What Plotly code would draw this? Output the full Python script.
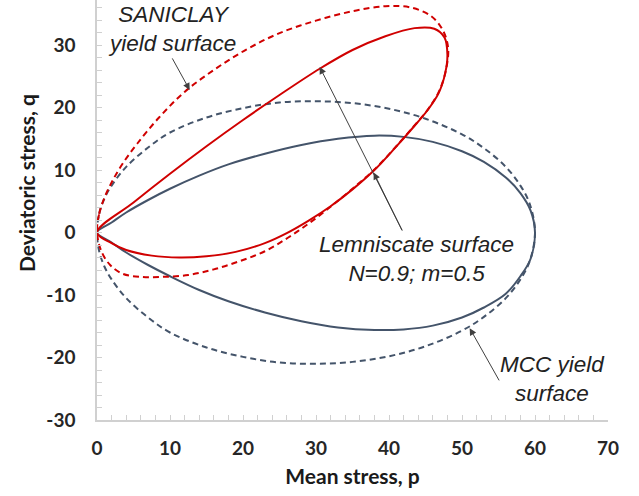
import plotly.graph_objects as go

# ---- data ----
# MCC yield surface (dashed, blue-grey), closed loop
mcc_p = [0, 0.3, 1, 2, 4, 7, 10, 15, 20, 25, 30, 35, 40, 45, 50, 53, 56, 58, 59.3, 60,
         59.3, 58, 56, 53, 50, 45, 40, 35, 30, 25, 20, 15, 10, 7, 4, 2, 1, 0.3, 0]
mcc_q = [0, 3.0, 5.4, 7.5, 10.5, 13.6, 16.0, 18.4, 19.9, 20.8, 21.0, 20.7, 19.8, 18.2, 15.7, 13.5, 10.5, 7.5, 4.5, 0,
         -4.5, -7.5, -10.5, -13.5, -15.7, -18.2, -19.8, -20.7, -21.0, -20.8, -19.9, -18.4, -16.0, -13.6, -10.5, -7.5, -5.4, -3.0, 0]

# Lemniscate surface (solid, blue-grey)
lem_p = [0, 2, 4, 7, 10, 14, 18, 23, 28, 33, 38, 42, 46, 50, 53, 56, 58, 59.4, 60,
         59.4, 58, 56, 53, 50, 46, 42, 38, 33, 28, 23, 18, 14, 10, 7, 4, 2, 0]
lem_q = [0, 1.6, 3.2, 5.2, 7.0, 9.1, 10.9, 12.6, 14.0, 15.0, 15.5, 15.3, 14.5, 13.0, 11.3, 8.8, 6.3, 3.5, 0,
         -4.2, -7.0, -9.8, -12.0, -13.6, -14.9, -15.5, -15.6, -15.2, -14.2, -12.8, -11.0, -9.2, -7.0, -5.2, -3.2, -1.6, 0]

# SANICLAY yield surface (dashed, red)
san_p = [0, 0.3, 1, 2, 3.5, 5.5, 8.5, 12, 16, 20.5, 25, 30, 35, 39.5, 43, 45.8, 47.4, 48.1,
         47.8, 46.9, 45.4, 43.4, 41, 38.2, 35.2, 32.2, 29.2, 26.2, 23, 19.5, 16, 12.5, 9, 6, 3.5, 1.8, 0.6, 0]
san_q = [0, 3.0, 5.5, 8.0, 11.0, 14.2, 18.4, 22.5, 26.0, 29.3, 31.9, 33.9, 35.4, 36.2, 36.0, 34.6, 32.3, 29.5,
         26.0, 22.7, 19.8, 17.0, 13.8, 10.3, 7.2, 4.3, 1.6, -0.8, -3.0, -4.6, -5.9, -6.8, -7.1, -7.1, -6.6, -5.2, -3.0, 0]

# Lemniscate surface with rotation (solid, red)
lr_p = [0, 5, 10, 15, 20, 25, 30.5, 35, 39.5, 43.5, 46.2, 47.6, 48.0, 47.7, 46.8, 45.3, 43.3, 40.8,
        38.0, 35.0, 32.0, 29.0, 26.0, 23.0, 19.0, 15.0, 11.3, 7.5, 4.0, 2.0, 0]
lr_q = [0, 4.8, 9.4, 13.8, 18.0, 22.0, 26.2, 29.2, 31.4, 32.7, 32.6, 31.2, 28.5, 25.5, 22.3, 19.6, 16.8, 13.5,
        10.0, 6.9, 4.2, 1.9, -0.1, -1.7, -3.1, -3.8, -4.0, -3.7, -2.8, -1.7, 0]

x_ticks = [0, 10, 20, 30, 40, 50, 60, 70]
y_ticks = [-30, -20, -10, 0, 10, 20, 30]

RED = "#d00000"
BLUE = "#44546a"

fig = go.Figure()
fig.add_trace(go.Scatter(x=mcc_p, y=mcc_q, mode="lines",
                         line=dict(color=BLUE, width=2, dash="6px,4px", shape="spline", smoothing=1.0)))
fig.add_trace(go.Scatter(x=lem_p, y=lem_q, mode="lines",
                         line=dict(color=BLUE, width=2, shape="spline", smoothing=1.0)))
fig.add_trace(go.Scatter(x=san_p, y=san_q, mode="lines",
                         line=dict(color=RED, width=2, dash="6px,4px", shape="spline", smoothing=1.0)))
fig.add_trace(go.Scatter(x=lr_p, y=lr_q, mode="lines",
                         line=dict(color=RED, width=2, shape="spline", smoothing=1.0)))

txt_font = dict(family="Liberation Sans", size=22.5, color="#222222")
arrow_kw = dict(showarrow=True, arrowhead=2, arrowsize=1.4, arrowwidth=1, arrowcolor="#404040",
                axref="x", ayref="y", text="")

annotations = [
    dict(x=10.3, y=32.6, text="<i>SANICLAY<br>yield surface</i>", showarrow=False, font=txt_font,
         xanchor="center", yanchor="middle"),
    dict(x=43.7, y=-4.2, text="<i>Lemniscate surface<br>N=0.9; m=0.5</i>", showarrow=False, font=txt_font,
         xanchor="center", yanchor="middle"),
    dict(x=62.4, y=-23.5, text="<i>MCC yield<br>surface</i>", showarrow=False, font=txt_font,
         xanchor="center", yanchor="middle"),
    dict(x=12.7, y=22.8, ax=10.2, ay=28.1, **arrow_kw),
    dict(x=30.5, y=26.5, ax=41.9, ay=0.1, **arrow_kw),
    dict(x=37.9, y=9.6, ax=41.9, ay=0.1, **arrow_kw),
    dict(x=51.05, y=-15.3, ax=55.2, ay=-23.9, **arrow_kw),
    # y-axis title placed as in the reference (not centred on the visible plot area)
    dict(xref="paper", yref="paper", x=-0.139, y=0.564, text="<b>Deviatoric stress, q</b>",
         textangle=-90, showarrow=False, xanchor="center", yanchor="middle",
         font=dict(family="Lato", size=21, color="#1a1a1a")),
]

tick_font = dict(family="Lato", size=19, color="#262626", weight="bold")
title_font = dict(family="Lato", size=21, color="#1a1a1a")

fig.update_layout(
    width=639, height=496,
    margin=dict(l=97, r=31, t=0, b=76),
    paper_bgcolor="white", plot_bgcolor="white",
    showlegend=False,
    annotations=annotations,
    font=dict(family="Lato"),
)
fig.update_xaxes(
    range=[0, 70], tickvals=x_ticks, ticktext=[str(v) for v in x_ticks],
    showgrid=False, zeroline=False, showline=True, linecolor="#d0d0d0", linewidth=1.5,
    ticks="inside", ticklen=5, tickcolor="#d0d0d0",
    minor=dict(dtick=2, ticks="inside", ticklen=5, tickcolor="#d0d0d0"),
    tickfont=tick_font, ticklabelstandoff=10,
    title=dict(text="<b>Mean stress, p</b>", font=title_font, standoff=12),
)
fig.update_yaxes(
    range=[-30, 37.2], tickvals=y_ticks, ticktext=[str(v) for v in y_ticks],
    showgrid=False, zeroline=False, showline=True, linecolor="#d0d0d0", linewidth=1.5,
    ticks="inside", ticklen=5, tickcolor="#d0d0d0",
    minor=dict(dtick=2, ticks="inside", ticklen=5, tickcolor="#d0d0d0"),
    tickfont=tick_font, ticklabelstandoff=16,
)

fig.write_html("out.html")
